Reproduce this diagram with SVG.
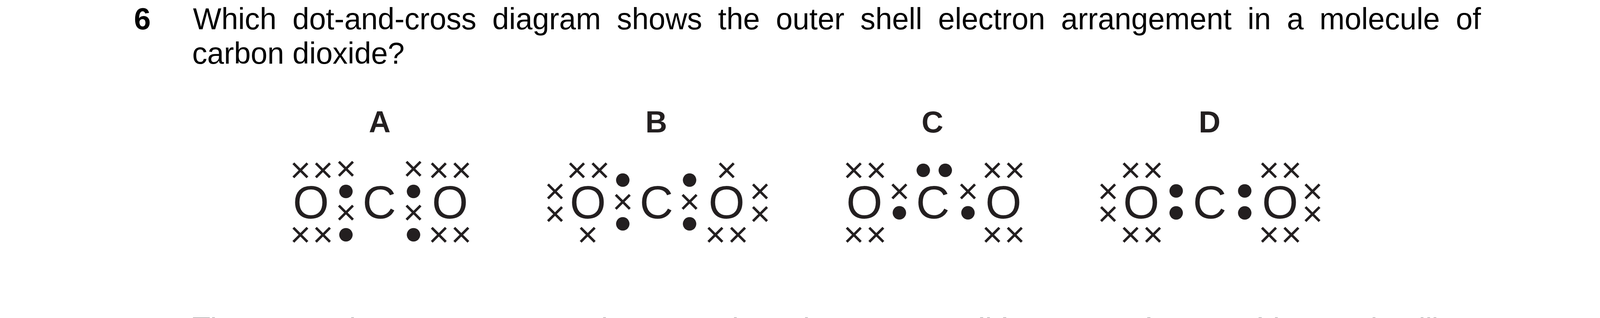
<svg xmlns="http://www.w3.org/2000/svg" width="4132" height="814" viewBox="0 0 4132 814">
<style>
text{font-family:"Liberation Sans",Arial,sans-serif}
.q{font-size:77px;fill:#000}
.n{font-size:77px;font-weight:bold;fill:#000}
.l{font-size:77px;font-weight:bold;fill:#231f20;text-anchor:middle}
.a{font-size:119px;fill:#231f20;text-anchor:middle}
.d{fill:#231f20}
</style>
<defs>
<path id="x" d="M-18-18L18 18M18-18L-18 18" fill="none" stroke="#231f20" stroke-width="6.5"/>
<ellipse id="o" class="d" rx="17.2" ry="17.3"/>
</defs>
<rect width="4132" height="814" fill="#fff"/>
<g id="question">
<text class="n" x="343" y="75">6</text>
<text class="q" x="494" y="75" word-spacing="19.4">Which dot-and-cross diagram shows the outer shell electron arrangement in a molecule of</text>
<text class="q" x="492" y="163">carbon dioxide?</text>
</g>
<g id="optionA">
<text class="l" x="972" y="339">A</text>
<text class="a" x="796" y="558.5">O</text><text class="a" x="971" y="558.5">C</text><text class="a" x="1152" y="558.5">O</text>
<use href="#x" x="769" y="436"/><use href="#x" x="826.7" y="436"/><use href="#x" x="885.6" y="432"/>
<use href="#x" x="1058.6" y="432"/><use href="#x" x="1123.3" y="436"/><use href="#x" x="1181" y="436"/>
<use href="#x" x="885.6" y="544.3"/><use href="#x" x="1058.6" y="544.3"/>
<use href="#x" x="769" y="601"/><use href="#x" x="826.7" y="601"/><use href="#x" x="1123.3" y="601"/><use href="#x" x="1181" y="601"/>
<use href="#o" x="885.6" y="490"/><use href="#o" x="1058.6" y="490"/><use href="#o" x="885.6" y="601"/><use href="#o" x="1058.6" y="601"/>
</g>
<g id="optionB">
<text class="l" x="1680" y="339">B</text>
<text class="a" x="1505" y="558.5">O</text><text class="a" x="1680.4" y="558.5">C</text><text class="a" x="1860" y="558.5">O</text>
<use href="#x" x="1477.1" y="436"/><use href="#x" x="1534.7" y="436"/><use href="#x" x="1860.4" y="436"/>
<use href="#x" x="1420.8" y="490"/><use href="#x" x="1420.8" y="548"/><use href="#x" x="1945.7" y="490"/><use href="#x" x="1945.7" y="548"/>
<use href="#x" x="1594.3" y="516.7"/><use href="#x" x="1765.3" y="516.7"/>
<use href="#x" x="1504.5" y="601"/><use href="#x" x="1831.4" y="601"/><use href="#x" x="1889.4" y="601"/>
<use href="#o" x="1594.3" y="461"/><use href="#o" x="1594.3" y="573"/><use href="#o" x="1765.3" y="461"/><use href="#o" x="1765.3" y="573"/>
</g>
<g id="optionC">
<text class="l" x="2387" y="339">C</text>
<text class="a" x="2212.8" y="558.5">O</text><text class="a" x="2388" y="558.5">C</text><text class="a" x="2568.7" y="558.5">O</text>
<use href="#x" x="2185.6" y="436"/><use href="#x" x="2243.4" y="436"/><use href="#x" x="2540.4" y="436"/><use href="#x" x="2597.8" y="436"/>
<use href="#x" x="2185.6" y="601"/><use href="#x" x="2243.4" y="601"/><use href="#x" x="2540.4" y="601"/><use href="#x" x="2597.8" y="601"/>
<use href="#x" x="2302.4" y="490"/><use href="#x" x="2478" y="490"/>
<use href="#o" x="2363.6" y="436"/><use href="#o" x="2419.9" y="436"/><use href="#o" x="2302.4" y="544.7"/><use href="#o" x="2478" y="544.7"/>
</g>
<g id="optionD">
<text class="l" x="3096.5" y="339">D</text>
<text class="a" x="2921.6" y="558.5">O</text><text class="a" x="3096.7" y="558.5">C</text><text class="a" x="3277" y="558.5">O</text>
<use href="#x" x="2894.3" y="436"/><use href="#x" x="2951.8" y="436"/><use href="#x" x="3248.6" y="436"/><use href="#x" x="3306" y="436"/>
<use href="#x" x="2894.3" y="601"/><use href="#x" x="2951.8" y="601"/><use href="#x" x="3248.6" y="601"/><use href="#x" x="3306" y="601"/>
<use href="#x" x="2836.7" y="490"/><use href="#x" x="2836.7" y="548"/><use href="#x" x="3360" y="490"/><use href="#x" x="3360" y="548"/>
<use href="#o" x="3011" y="488.7"/><use href="#o" x="3011" y="545"/><use href="#o" x="3186.5" y="488.7"/><use href="#o" x="3186.5" y="545"/>
</g>
<g id="connectors"/>
<path id="clipped-line-edge" fill="#777" d="M494 813h43v1h-43zM543 813h7v1h-7zM899 813h7v1h-7zM1544 813h7v1h-7zM1879 813h7v1h-7zM2061 813h7v1h-7zM2509 813h8v1h-8zM2527 813h7v1h-7zM2568 813h8v1h-8zM2937 813h8v1h-8zM3222 813h8v1h-8zM3264 813h7v1h-7zM3514 813h7v1h-7zM3637 813h7v1h-7zM3654 813h7v1h-7zM3670 813h7v1h-7z"/>
</svg>
